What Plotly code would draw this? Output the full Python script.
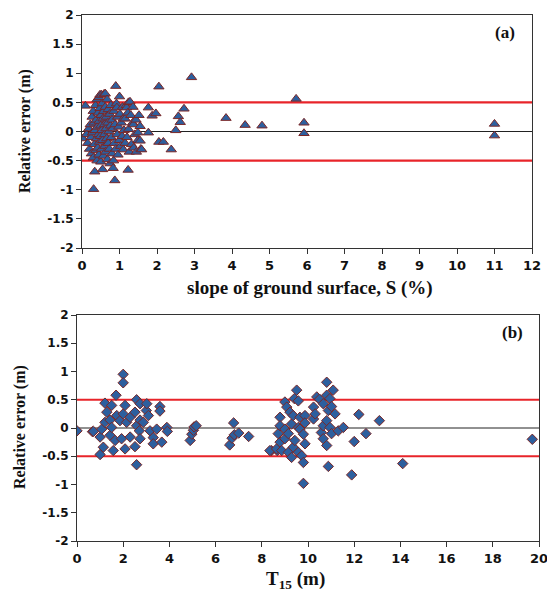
import plotly.graph_objects as go

# ---------------- Panel (a): slope of ground surface vs relative error
slope_a = [0.02, 0.09, 0.12, 0.15, 0.18, 0.20, 0.22, 0.24, 0.25, 0.27, 0.28, 0.30, 0.30, 0.31, 0.32, 0.33,
           0.34, 0.35, 0.36, 0.37, 0.38, 0.39, 0.40, 0.40, 0.41, 0.42, 0.43, 0.44, 0.45, 0.45, 0.46, 0.47,
           0.48, 0.48, 0.49, 0.50, 0.50, 0.51, 0.52, 0.52, 0.53, 0.54, 0.55, 0.55, 0.56, 0.57, 0.58, 0.59,
           0.60, 0.60, 0.61, 0.62, 0.62, 0.63, 0.64, 0.65, 0.66, 0.67, 0.68, 0.69, 0.70, 0.70, 0.72, 0.73,
           0.74, 0.75, 0.76, 0.77, 0.78, 0.80, 0.80, 0.82, 0.83, 0.84, 0.85, 0.86, 0.875, 0.88, 0.90, 0.90,
           0.92, 0.93, 0.94, 0.95, 0.96, 0.98, 1.00, 1.00, 1.01, 1.03, 1.05, 1.07, 1.08, 1.10, 1.10, 1.12,
           1.15, 1.15, 1.18, 1.19, 1.20, 1.22, 1.23, 1.24, 1.24, 1.26, 1.28, 1.30, 1.32, 1.35, 1.36, 1.37,
           1.38, 1.41, 1.44, 1.45, 1.49, 1.49, 1.52, 1.55, 1.55, 1.57, 1.59,
           1.77, 1.77, 1.87, 1.97, 2.05, 2.05, 2.17, 2.38, 2.50, 2.57, 2.62, 2.72, 2.92, 3.84, 4.35, 4.80,
           5.71, 5.92, 5.92, 11.0, 11.0]
error_a = [-0.12, 0.44, -0.05, -0.20, 0.05, -0.30, 0.12, -0.10, -0.38, 0.25, -0.02, 0.35, -0.45, -0.99, 0.15, -0.22,
           -0.69, 0.02, 0.45, -0.32, 0.20, -0.12, 0.55, -0.50, 0.08, -0.28, 0.32, -0.05, 0.585, -0.40, 0.18, -0.18,
           0.63, 0.40, -0.08, -0.52, 0.10, 0.28, 0.63, -0.30, 0.02, 0.48, -0.65, -0.15, 0.22, -0.42, 0.35, 0.645,
           -0.05, 0.12, -0.25, 0.65, 0.42, -0.35, 0.05, 0.25, -0.12, 0.55, -0.48, 0.15, -0.20, 0.38, 0.00, -0.30,
           0.30, -0.55, 0.10, 0.45, -0.10, 0.20, -0.38, 0.05, -0.63, -0.50, 0.35, -0.20, -0.84, 0.12, 0.78, -0.30,
           0.48, 0.41, -0.05, 0.25, -0.40, 0.08, 0.60, -0.15, 0.30, -0.25, 0.15, -0.08, 0.42, -0.31, 0.22, 0.02,
           0.22, -0.20, 0.45, 0.41, -0.10, 0.32, -0.66, 0.50, 0.04, -0.35, 0.51, 0.28, -0.22, 0.15, 0.42, 0.12,
           -0.28, -0.05, 0.20, -0.35, -0.02, -0.15, 0.28, 0.09, -0.16, -0.30, -0.31,
           0.41, -0.02, 0.27, 0.31, 0.77, -0.18, -0.18, -0.31, 0.02, 0.26, 0.16, 0.39, 0.93, 0.23, 0.11, 0.10,
           0.56, 0.15, -0.03, 0.13, -0.07]

# ---------------- Panel (b): T15 vs relative error
t15_b = [0.0, 0.67, 0.71, 1.00, 1.00, 1.07, 1.14, 1.21, 1.21, 1.29, 1.43, 1.43, 1.50, 1.50, 1.57, 1.65,
         1.69, 1.72, 1.86, 1.93, 2.00, 2.00, 2.00, 2.08, 2.08, 2.15, 2.30, 2.30, 2.51, 2.51, 2.58, 2.58,
         2.58, 2.70, 2.73, 2.73, 2.73, 2.87, 3.00, 3.02, 3.09, 3.16, 3.30, 3.30, 3.45, 3.59, 3.59, 3.67,
         3.89, 3.91, 4.90, 4.97, 5.04, 5.07, 5.16, 6.61, 6.71, 6.78, 6.81, 7.00, 7.43, 8.42, 8.67,
         8.35, 8.64, 8.71, 8.79, 8.79, 8.79, 8.86, 9.00, 9.00, 9.00, 9.08, 9.15, 9.15, 9.22, 9.29, 9.29,
         9.36, 9.36, 9.41, 9.43, 9.51, 9.58, 9.58, 9.58, 9.65, 9.65, 9.73, 9.80, 9.80, 9.80, 9.87, 9.87,
         9.87, 10.24, 10.24, 10.31, 10.38, 10.50, 10.58, 10.66, 10.66, 10.66, 10.81, 10.81, 10.81, 10.81,
         10.88, 10.88, 10.95, 10.95, 11.02, 11.02, 11.09, 11.17, 11.31, 11.53, 11.89, 12.00, 12.20, 12.51,
         13.09, 14.10, 19.71]
error_b = [-0.05, -0.065, -0.06, -0.16, -0.47, -0.02, -0.34, 0.44, 0.10, 0.28, 0.14, -0.13, 0.40, 0.01, -0.40, -0.22,
           0.58, 0.22, 0.13, -0.19, 0.95, 0.80, 0.25, 0.40, -0.37, 0.10, 0.19, -0.16, 0.28, -0.33, 0.50, 0.04,
           -0.65, -0.05, 0.43, 0.14, -0.19, 0.10, 0.31, 0.43, 0.22, -0.05, -0.17, -0.28, -0.02, 0.38, 0.30, -0.25,
           0.01, -0.06, -0.22, -0.11, -0.04, 0.02, 0.04, -0.30, -0.18, 0.09, -0.12, -0.09, -0.15, -0.40, -0.40,
           -0.40, -0.37, -0.10, 0.19, 0.04, -0.25, -0.40, 0.46, -0.02, -0.19, 0.37, -0.10, -0.43, 0.28, 0.07, -0.52,
           0.22, -0.34, 0.52, -0.22, 0.67, 0.48, 0.01, -0.43, 0.19, -0.02, -0.49, -0.11, -0.61, -0.98, 0.22, 0.09,
           -0.28, 0.37, 0.16, 0.25, 0.55, 0.51, -0.08, 0.43, 0.04, -0.19, 0.81, 0.58, 0.13, -0.31,
           0.31, -0.68, 0.52, 0.01, 0.38, -0.10, 0.67, 0.25, -0.05, 0.01, -0.83, -0.24, 0.24, -0.10,
           0.13, -0.63, -0.20]

y_ticks = [2, 1.5, 1, 0.5, 0, -0.5, -1, -1.5, -2]
y_tick_text = ["2", "1.5", "1", "0.5", "0", "-0.5", "-1", "-1.5", "-2"]
x_ticks_a = list(range(0, 13))
x_ticks_b = list(range(0, 21, 2))
limit_lines = [0.5, -0.5]

FILL = "#2D5F9E"
EDGE = "#7A2626"
OFF = 8                      # default page (body) margin
W, H = 555 - OFF, 595 - OFF  # figure size so the page fits the window


def px(rx):  # reference x pixel -> paper fraction
    return (rx - OFF) / W


def py(ry):  # reference y pixel -> paper fraction
    return 1 - (ry - OFF) / H


fig = go.Figure()
fig.add_trace(go.Scatter(x=slope_a, y=error_a, mode="markers", xaxis="x", yaxis="y",
                         marker=dict(symbol="triangle-up", size=9, color=FILL,
                                     line=dict(color=EDGE, width=1)), showlegend=False))
fig.add_trace(go.Scatter(x=t15_b, y=error_b, mode="markers", xaxis="x2", yaxis="y2",
                         marker=dict(symbol="diamond", size=8, color=FILL,
                                     line=dict(color=EDGE, width=1)), showlegend=False))

ytickfont = dict(family="DejaVu Sans", size=12, color="#111", weight="bold")
xtickfont = dict(family="DejaVu Sans", size=13, color="#111", weight="bold")
common_ax = dict(showline=True, linecolor="#333", linewidth=1, mirror=True, showgrid=False,
                 zeroline=False, ticks="outside", ticklen=5, tickcolor="#333", automargin=False)

fig.update_layout(
    width=W, height=H, margin=dict(l=0, r=0, t=0, b=0, autoexpand=False),
    paper_bgcolor="white", plot_bgcolor="white",
    xaxis=dict(domain=[px(82), px(532)], range=[0, 12], tickvals=x_ticks_a, anchor="y",
               tickfont=xtickfont, **common_ax),
    yaxis=dict(domain=[py(248), py(15)], range=[-2, 2], tickvals=y_ticks, ticktext=y_tick_text,
               anchor="x", tickfont=ytickfont, **common_ax),
    xaxis2=dict(domain=[px(77), px(539)], range=[0, 20], tickvals=x_ticks_b, anchor="y2",
                tickfont=xtickfont, **common_ax),
    yaxis2=dict(domain=[py(541), py(315)], range=[-2, 2], tickvals=y_ticks, ticktext=y_tick_text,
                anchor="x2", tickfont=ytickfont, **common_ax),
)

for xr, yr in [("x", "y"), ("x2", "y2")]:
    for v in limit_lines:
        fig.add_shape(type="line", xref=f"{xr} domain", yref=yr, x0=0, x1=1, y0=v, y1=v,
                      line=dict(color="#E8242A", width=2.2), layer="below")
    fig.add_shape(type="line", xref=f"{xr} domain", yref=yr, x0=0, x1=1, y0=0, y1=0,
                  line=dict(color="#222", width=1), layer="below")

SERIF = "Liberation Serif, Times New Roman, serif"
serif_b = dict(family=SERIF, size=17, color="#111", weight="bold")
ann = [
    dict(text="(a)", x=505, y=32, font=serif_b),
    dict(text="(b)", x=512, y=332, font=serif_b),
    dict(text="slope of ground surface, S (%)", x=310, y=288, font=dict(serif_b, size=19)),
    dict(text="T<sub>15</sub> (m)", x=295, y=580, font=dict(serif_b, size=19)),
    dict(text="Relative error (m)", x=25, y=131, textangle=-90, font=dict(serif_b, size=16)),
    dict(text="Relative error (m)", x=20, y=427, textangle=-90, font=dict(serif_b, size=16)),
]
for a in ann:
    fig.add_annotation(text=a["text"], x=px(a["x"]), y=py(a["y"]), xref="paper", yref="paper",
                       showarrow=False, xanchor="center", yanchor="middle",
                       textangle=a.get("textangle", 0), font=a["font"])

fig.write_html("out.html")
